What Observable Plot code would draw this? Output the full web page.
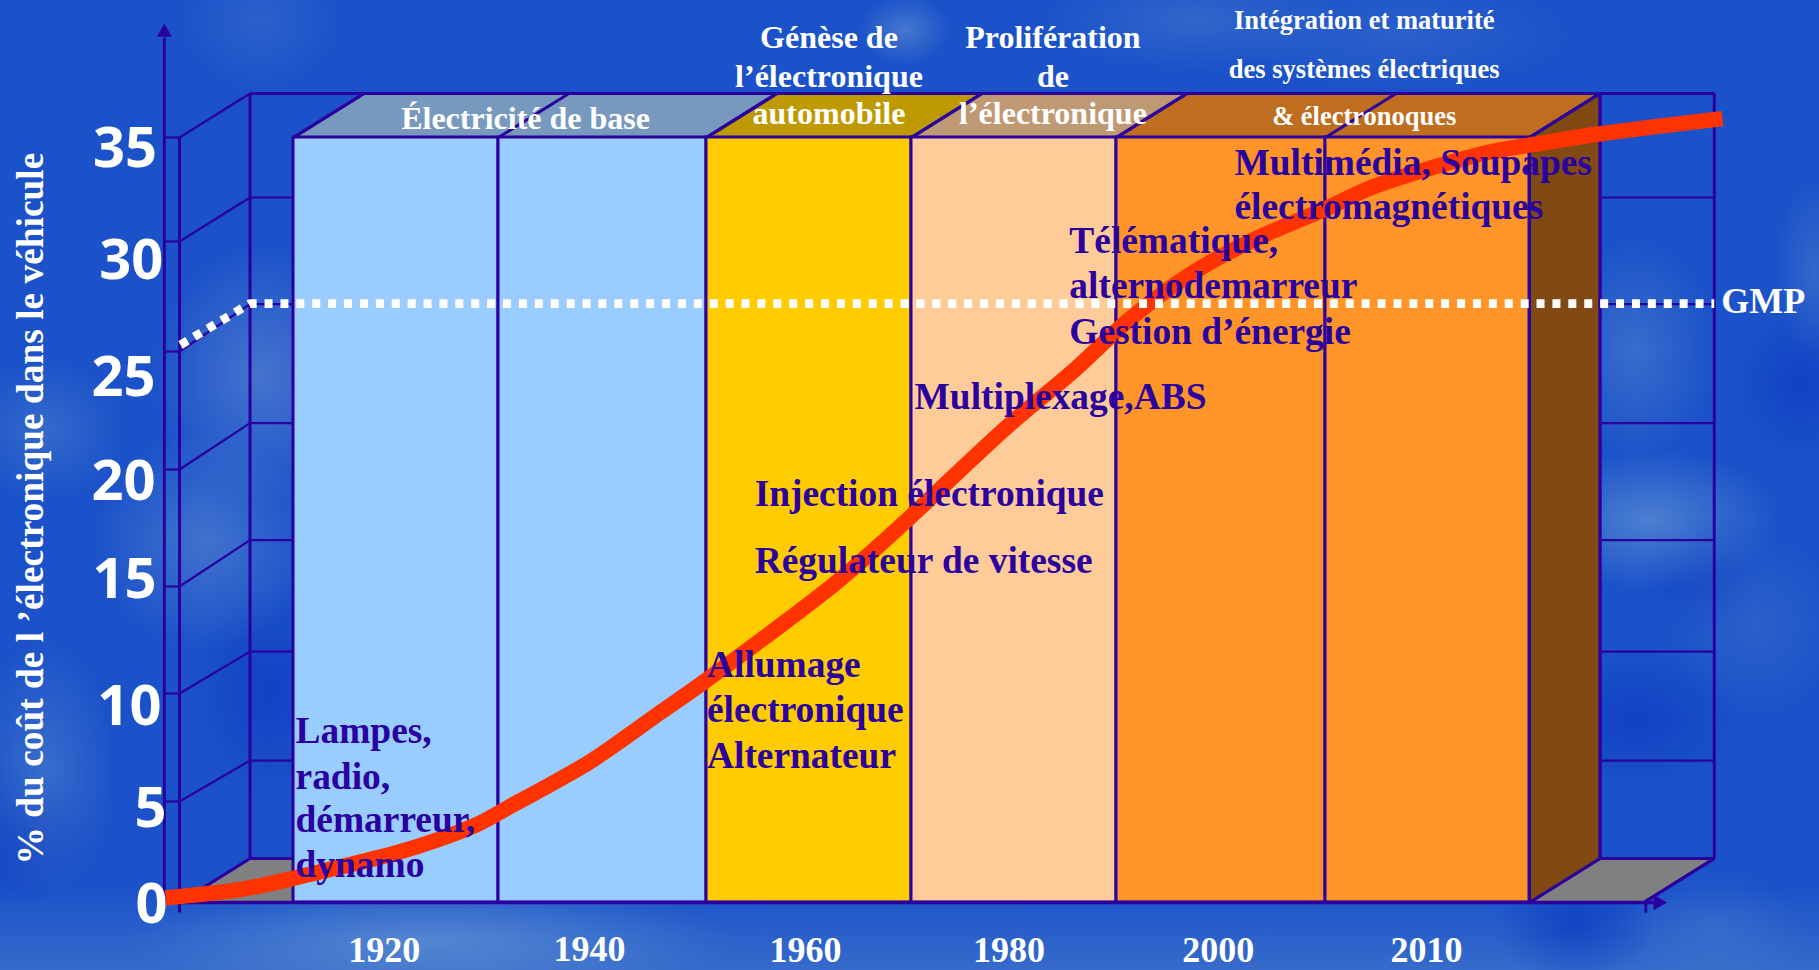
<!DOCTYPE html>
<html lang="fr">
<head>
<meta charset="utf-8">
<title>Électronique automobile</title>
<script src="https://cdn.jsdelivr.net/npm/d3@7"></script>
<script src="https://cdn.jsdelivr.net/npm/@observablehq/plot@0.6"></script>
<style>
html,body{margin:0;padding:0;width:1819px;height:970px;overflow:hidden;}
body{
  background-color:#1b52c9;
  background-image:
    radial-gradient(ellipse 110px 130px at 262px 375px, rgba(110,150,210,.5), transparent),
    radial-gradient(ellipse 80px 70px at 45px 430px, rgba(100,150,205,.35), transparent),
    radial-gradient(ellipse 110px 110px at 205px 540px, rgba(110,155,210,.45), transparent),
    radial-gradient(ellipse 70px 130px at 45px 770px, rgba(100,150,205,.4), transparent),
    radial-gradient(ellipse 300px 60px at 430px 940px, rgba(115,165,215,.55), transparent),
    radial-gradient(ellipse 80px 70px at 260px 20px, rgba(100,150,210,.22), transparent),
    radial-gradient(ellipse 45px 35px at 905px 30px, rgba(120,165,215,.45), transparent),
    radial-gradient(ellipse 150px 50px at 1195px 20px, rgba(100,150,205,.3), transparent),
    radial-gradient(ellipse 170px 55px at 1400px 35px, rgba(90,140,205,.25), transparent),
    radial-gradient(ellipse 80px 110px at 1635px 350px, rgba(100,150,205,.4), transparent),
    radial-gradient(ellipse 40px 90px at 1815px 270px, rgba(110,155,205,.3), transparent),
    radial-gradient(ellipse 130px 70px at 1650px 520px, rgba(115,165,215,.55), transparent),
    radial-gradient(ellipse 90px 90px at 1755px 625px, rgba(90,140,205,.25), transparent),
    radial-gradient(ellipse 90px 60px at 1715px 930px, rgba(85,135,205,.3), transparent),
    radial-gradient(ellipse 80px 110px at 270px 690px, rgba(8,50,190,.5), transparent),
    radial-gradient(ellipse 80px 70px at 20px 835px, rgba(8,50,190,.5), transparent),
    radial-gradient(ellipse 110px 70px at 1635px 720px, rgba(6,50,190,.5), transparent),
    radial-gradient(ellipse 60px 70px at 1700px 570px, rgba(6,50,190,.35), transparent),
    radial-gradient(ellipse 70px 80px at 1800px 385px, rgba(6,50,190,.5), transparent),
    radial-gradient(ellipse 80px 60px at 1575px 925px, rgba(6,50,190,.6), transparent),
    linear-gradient(to top, rgba(95,145,205,.4), rgba(95,145,205,0) 80px);
}
svg{display:block;}
</style>
</head>
<body>
<script>
// ---- Data ----
const xDomain = [1895, 1910, 1930, 1950, 1970, 1990, 2005, 2015, 2025];
const yDomain = [-4, 0, 5, 10, 15, 20, 25, 30, 35, 46];

const curveYears = [1903.76, 1907.5, 1910.03, 1912.44, 1920.24, 1924.15, 1927.9, 1931.44, 1935, 1938.53, 1941.9, 1945.58, 1949.26, 1957.87, 1962.9, 1968.27, 1979.66, 1985.83, 1991, 1995.53, 1999.74, 2005, 2007.2, 2010.06, 2013, 2015.87, 2018.48, 2024.46];
const curveShares = [0.23, 0.66, 1.2, 1.5, 2.49, 3.12, 3.86, 4.85, 5.79, 6.76, 7.86, 9.13, 10.37, 13.41, 15.26, 17.32, 21.94, 24.19, 26.5, 28.6, 30.05, 31.57, 32.58, 33.5, 34.29, 34.77, 35.18, 35.91];

const gmpFrontLevel = 25.27;
const gmpBackLevel = 27.18;

const bandEdges = [1910, 1930, 1950, 1970, 1990, 2005, 2015];
const frontLevels = [0, 5, 10, 15, 20, 25, 30, 35];
const backLevels = [0, 4.85, 9.9, 15.1, 20.1, 25.15, 30, 35];

const yTickLabels = ["35", "30", "25", "20", "15", "10", "5", "0"];
const yTickYears = [1903.2, 1903.5, 1903.12, 1903.12, 1903.17, 1903.41, 1903.66, 1903.71];
const yTickShares = [33.65, 28.36, 23.14, 18.76, 14.49, 8.61, 3.81, -0.99];

const xTickLabels = ["1920", "1940", "1960", "1980", "2000", "2010"];
const xTickYears = [1918.85, 1938.75, 1959.66, 1979.5, 1997.3, 2009.95];
const xTickShares = [-2.95, -2.88, -2.95, -2.95, -2.95, -2.95];

const noteTexts = ["Lampes,", "radio,", "démarreur,", "dynamo", "Allumage", "électronique", "Alternateur", "Injection électronique", "Régulateur de vitesse", "Multiplexage,ABS", "Télématique,", "alternodemarreur", "Gestion d’énergie", "Multimédia, Soupapes", "électromagnétiques"];
const noteYears = [1910.2, 1910.2, 1910.2, 1910.2, 1950.05, 1950.05, 1950.05, 1954.7, 1954.7, 1970.3, 1985.4, 1985.4, 1985.4, 1998.47, 1998.47];
const noteShares = [7.69, 5.6, 3.47, 1.24, 10.75, 8.7, 6.57, 18.46, 15.56, 22.58, 29.5, 27.41, 25.36, 33.22, 31.06];

const headTexts = ["Électricité de base", "Génèse de", "l’électronique", "automobile", "Prolifération", "de", "l’électronique"];
const headYears = [1932.6, 1961.95, 1961.95, 1961.95, 1983.8, 1983.8, 1983.8];
const headShares = [35.43, 39.28, 37.45, 35.63, 39.28, 37.45, 35.63];

const head2Texts = ["Intégration et maturité", "des systèmes électriques", "& électronoques"];
const head2Years = [2006.9, 2006.9, 2006.9];
const head2Shares = [40.24, 37.88, 35.58];

// ---- Layout (scale ranges and styles) ----
const xRange = [-14.5, 293, 498, 706, 911, 1116, 1325, 1529, 1733];
const yRange = [982.8, 902, 801, 693, 586, 469, 351, 241, 137, -91.8];
const depthX = 70.5, depthY = -44;
const INK = "#2a009f";
const bandFills = ["#99ccff", "#99ccff", "#ffcc00", "#ffcc99", "#ff9428", "#ff9428"];
const topSpans = [[1910, 1950, "#7799bd"], [1950, 1970, "#bf9900"], [1970, 1990, "#bf9973"], [1990, 2015, "#be6e1e"]];

const xs = d3.scaleLinear().domain(xDomain).range(xRange);
const ys = d3.scaleLinear().domain(yDomain).range(yRange);
const backX = v => xs.invert(xs(v) + depthX);
const backY = v => ys.invert(ys(v) + depthY);

const axisYear = 1903.7, frameLeft = 1904.44, frameRight = 2020.6, axisEnd = 2021.08, boxEnd = 2015;

const zip = (a, b, c) => a.map((d, i) => ({t: d, x: b[i], y: c[i]}));
const poly = (pts, fill) => Plot.line(pts.map(([x, y]) => ({x, y})), {
  x: "x", y: "y", fill, stroke: INK, strokeWidth: 3, curve: "linear-closed", strokeLinejoin: "miter"
});
const seg = (x1, y1, x2, y2, w = 3) => Plot.line([{x: x1, y: y1}, {x: x2, y: y2}], {
  x: "x", y: "y", stroke: INK, strokeWidth: w, strokeLinecap: "butt"
});

const bands = bandFills.map((fill, i) => ({x1: bandEdges[i], x2: bandEdges[i + 1], fill}));
const curve = curveYears.map((x, i) => ({x, y: curveShares[i]}));
const gmp = [
  {x: frameLeft, y: gmpFrontLevel},
  {x: backX(frameLeft), y: gmpBackLevel},
  {x: backX(frameRight), y: gmpBackLevel}
];

const serif = "'Liberation Serif','Times New Roman',serif";
const sans = "'Open Sans','Noto Sans',sans-serif";

const plot = Plot.plot({
  width: 1819,
  height: 970,
  margin: 0,
  style: {background: "transparent"},
  x: {type: "linear", domain: xDomain, range: xRange, axis: null},
  y: {type: "linear", domain: yDomain, range: yRange, axis: null},
  color: {type: "identity"},
  marks: [
    // floors
    poly([[frameLeft, 0], [backX(frameLeft), backY(0)], [1910, backY(0)], [1910, 0]], "#808080"),
    poly([[boxEnd, 0], [backX(boxEnd), backY(0)], [backX(frameRight), backY(0)], [frameRight, 0]], "#808080"),
    // back wall frame and grid
    seg(backX(frameLeft), backY(35), backX(frameRight), backY(35), 3),
    seg(backX(frameLeft), backY(0), backX(frameLeft), backY(35)),
    seg(backX(frameRight), backY(0), backX(frameRight), backY(35)),
    ...backLevels.flatMap(v => [
      seg(backX(frameLeft), backY(v), 1910, backY(v), 2.2),
      seg(backX(boxEnd), backY(v), backX(frameRight), backY(v), 2.2)
    ]),
    // left face: ticks and receding lines
    seg(frameLeft, -0.5, frameLeft, 35),
    ...frontLevels.flatMap((v, i) => [
      seg(axisYear, v, frameLeft, v, 2.2),
      seg(frameLeft, v, backX(frameLeft), backY(backLevels[i]), 2.2)
    ]),
    seg(frameRight + 0.1, -0.5, frameRight + 0.1, 0),
    seg(frameRight, 0, backX(frameRight), backY(0)),
    // box faces
    ...topSpans.map(([a, b, f]) => poly([[a, 35], [backX(a), backY(35)], [backX(b), backY(35)], [b, 35]], f)),
    poly([[boxEnd, 35], [backX(boxEnd), backY(35)], [backX(boxEnd), backY(0)], [boxEnd, 0]], "#804a12"),
    seg(backX(boxEnd), backY(0), backX(boxEnd), backY(35)),
    ...bandEdges.map(e => seg(e, 35, backX(e), backY(35))),
    Plot.rect(bands, {x1: "x1", x2: "x2", y1: 0, y2: 35, fill: "fill", stroke: INK, strokeWidth: 3}),
    // axes
    seg(axisYear, 0, axisYear, 39.8, 3),
    seg(axisYear, 0, axisEnd, 0, 3.7),
    Plot.dot([{x: axisYear, y: 40.05}], {x: "x", y: "y", symbol: "triangle", r: 5.6, fill: INK, stroke: null}),
    Plot.dot([{x: 2021.3, y: 0}], {x: "x", y: "y", symbol: "triangle", r: 5.8, rotate: 90, fill: INK, stroke: null}),
    // series
    Plot.line(curve, {x: "x", y: "y", stroke: "#ff3300", strokeWidth: 15.5, strokeLinejoin: "round", strokeLinecap: "butt", curve: "catmull-rom"}),
    Plot.line(gmp, {x: "x", y: "y", stroke: "#ffffff", strokeWidth: 8.7, strokeDasharray: "8 7.9", strokeDashoffset: 14.7, strokeLinecap: "butt", strokeLinejoin: "miter"}),
    // texts
    Plot.text(zip(noteTexts, noteYears, noteShares), {x: "x", y: "y", text: "t", textAnchor: "start", lineAnchor: "bottom", fontFamily: serif, fontWeight: "bold", fontSize: 37.4, fill: INK}),
    Plot.text(zip(headTexts, headYears, headShares), {x: "x", y: "y", text: "t", textAnchor: "middle", lineAnchor: "bottom", fontFamily: serif, fontWeight: "bold", fontSize: 32, fill: "#ffffff"}),
    Plot.text(zip(head2Texts, head2Years, head2Shares), {x: "x", y: "y", text: "t", textAnchor: "middle", lineAnchor: "bottom", fontFamily: serif, fontWeight: "bold", fontSize: 26.5, fill: "#ffffff"}),
    Plot.text([{t: "GMP", x: 2024.4, y: 26.77}], {x: "x", y: "y", text: "t", textAnchor: "start", lineAnchor: "bottom", fontFamily: serif, fontWeight: "bold", fontSize: 36, fill: "#ffffff"}),
    Plot.text(zip(xTickLabels, xTickYears, xTickShares), {x: "x", y: "y", text: "t", textAnchor: "middle", lineAnchor: "bottom", fontFamily: serif, fontWeight: "bold", fontSize: 36, fill: "#ffffff"}),
    Plot.text(zip(yTickLabels, yTickYears, yTickShares), {x: "x", y: "y", text: "t", textAnchor: "end", lineAnchor: "bottom", dx: 3, dy: 1, fontFamily: sans, fontWeight: "bold", fontSize: 56, fill: "#ffffff"}),
    Plot.text([{t: "% du coût de l ’électronique dans le véhicule", x: 1897.8, y: 18.33}], {x: "x", y: "y", text: "t", rotate: -90, textAnchor: "middle", lineAnchor: "bottom", fontFamily: serif, fontWeight: "bold", fontSize: 37.4, fill: "#ffffff"})
  ]
});
document.body.appendChild(plot);
</script>
</body>
</html>
